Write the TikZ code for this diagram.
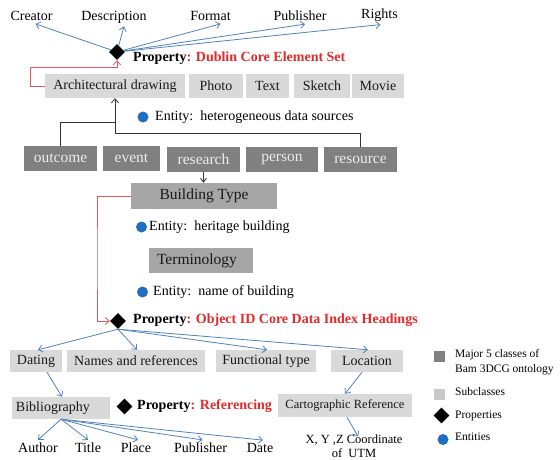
\documentclass[tikz,border=0pt]{standalone}
\usepackage{fontspec}
\setmainfont{Liberation Serif}
\usetikzlibrary{shapes.geometric,arrows.meta}
\definecolor{lgray}{HTML}{D9D9D9}
\definecolor{lgray2}{HTML}{C8C8C8}
\definecolor{mgray}{HTML}{A6A6A6}
\definecolor{dgray}{HTML}{808080}
\definecolor{dtext}{HTML}{EDEDED}
\definecolor{arrblue}{HTML}{4F81BD}
\definecolor{propred}{HTML}{E32A2A}
\definecolor{linered}{HTML}{E05A5A}
\definecolor{dotblue}{HTML}{1F6EBF}
\begin{document}
\begin{tikzpicture}[x=1pt,y=-1pt,
 ftxt/.style={font=\fontsize{14}{16}\selectfont},
 sub/.style={fill=lgray, inner sep=0, ftxt, text=black!90},
 maj/.style={fill=dgray, inner sep=0, text=dtext, font=\fontsize{15.5}{18}\selectfont},
 mid/.style={fill=mgray, inner sep=0, text=black!90, font=\fontsize{15.5}{18}\selectfont},
 lbl/.style={inner sep=3pt, ftxt},
 legtxt/.style={inner sep=0, anchor=west, align=left, font=\fontsize{11.5}{15}\selectfont},
 prop/.style={diamond, fill=black, inner sep=0, minimum width=16pt, minimum height=16pt},
 ent/.style={circle, fill=dotblue, inner sep=0, minimum size=11pt},
 proptxt/.style={inner sep=0, anchor=west, font=\bfseries\fontsize{14}{16}\selectfont},
 enttxt/.style={inner sep=0, anchor=west, ftxt},
 barrow/.style={draw=arrblue, line width=0.8pt, -{Straight Barb[length=4pt,width=7pt]}},
 redline/.style={draw=linered, line width=0.8pt},
 blkline/.style={draw=black!80, line width=0.8pt}
]
\useasboundingbox (0,0) rectangle (560,459);

% top labels
\node[lbl] (creator) at (31.5,16) {Creator};
\node[lbl] (desc) at (114,17) {Description};
\node[lbl] (format) at (210.5,16) {Format};
\node[lbl] (publ) at (300,16) {Publisher};
\node[lbl] (rights) at (379.5,15) {Rights};

% diamond 1
\node[prop] (d1) at (117,52) {};
\node[proptxt] (p1) at (133,58) {Property\textcolor{propred}{: Dublin Core Element Set}};

\draw[barrow] (d1) -- ([xshift=4]creator.south);
\draw[barrow] (d1) -- ([xshift=10]desc.south);
\draw[barrow] (d1) -- ([xshift=10]format.south);
\draw[barrow] (d1) -- ([xshift=5]publ.south);
\draw[barrow] (d1) -- ([xshift=1]rights.south);

% subclasses row 1
\node[sub, minimum width=140, minimum height=24] (arch) at (115,86) {Architectural drawing};
\node[sub, minimum width=54, minimum height=24] (photo) at (216,86) {Photo};
\node[sub, minimum width=43, minimum height=24] (text) at (267.5,86) {Text};
\node[sub, minimum width=56, minimum height=24] (sketch) at (322,86) {Sketch};
\node[sub, minimum width=52, minimum height=24] (movie) at (378,86) {Movie};

% red connector 1
\coordinate (r1) at (30,67);
\draw[redline, -{Straight Barb[length=4pt,width=7pt]}] (arch.west) -| (r1) -- (r1 -| d1.south) -- (d1.south);

% entity 1
\node[ent] (e1) at (143,117) {};
\node[enttxt] (e1t) at (155,117) {Entity:\ \ heterogeneous data sources};

% major classes
\node[maj, minimum width=73, minimum height=25] (outcome) at (60.5,158.5) {outcome};
\node[maj, minimum width=57, minimum height=25] (event) at (131.5,158.5) {event};
\node[maj, minimum width=73, minimum height=25] (research) at (203.5,159.5) {research};
\node[maj, minimum width=72, minimum height=25] (person) at (282,159.5) {person};
\node[maj, minimum width=73, minimum height=25] (resource) at (360.5,159.5) {resource};

% black connectors
\coordinate (j1) at (115,122);
\coordinate (j2) at (115,133);
\draw[blkline] (outcome.north) |- (j1);
\draw[blkline, -{Straight Barb[length=4pt,width=7pt]}] (resource.north) |- (j2) -- (arch.south);

% building type
\node[mid, minimum width=146, minimum height=26] (bt) at (204,196) {Building Type};
\draw[blkline, -{Straight Barb[length=4pt,width=6pt]}] (research.south) -- (research.south |- bt.north);

\node[ent] (e2) at (141.5,227) {};
\node[enttxt] (e2t) at (149,227) {Entity:\ \ heritage building};

\node[mid, minimum width=104, minimum height=25] (term) at (201,260.5) {Terminology\hspace*{8pt}};

\node[ent] (e3) at (142.5,292) {};
\node[enttxt] (e3t) at (153,292) {Entity:\ \ name of building};

% diamond 2
\node[prop] (d2) at (118,321) {};
\node[proptxt] (p2) at (133,320) {Property\textcolor{propred}{: Object ID Core Data Index Headings}};

% red connector 2
\coordinate (r2) at (97,258);
\draw[redline, -{Straight Barb[length=4pt,width=7pt]}] (bt.west) -| (r2) |- (d2.west);

% row 3
\node[sub, minimum width=52, minimum height=22] (dating) at (36,361) {Dating};
\node[sub, minimum width=138, minimum height=22] (names) at (136,361) {Names and references};
\node[sub, minimum width=100, minimum height=22] (func) at (266,361) {Functional type};
\node[sub, minimum width=72, minimum height=22] (loc) at (367,361) {Location};

\draw[barrow] (d2.south) -- ([xshift=2]dating.north);
\draw[barrow] (d2.south) -- ([xshift=1]names.north);
\draw[barrow] (d2.south) -- ([xshift=1]func.north);
\draw[barrow] (d2.south) -- ([xshift=1]loc.north);

% bibliography
\node[sub, minimum width=98, minimum height=22, text width=90, align=left] (bib) at (61,408) {Bibliography};
\draw[barrow] ([xshift=11]dating.south) -- ([xshift=1]bib.north);

\node[prop] (d3) at (124.5,406.5) {};
\node[proptxt] (p3) at (137,406) {Property\textcolor{propred}{: Referencing}};

% cartographic
\node[sub, minimum width=134, minimum height=23, font=\fontsize{12.5}{14}\selectfont] (carto) at (345,405.5) {Cartographic Reference};
\draw[barrow] ([xshift=-5]loc.south) -- (carto.north);

\node[inner sep=2pt, align=center, font=\fontsize{12.5}{14}\selectfont] (xyz) at (354,446) {X, Y ,Z Coordinate\\of\ \ UTM};
\draw[barrow] ([xshift=2]carto.south) -- ([xshift=4,yshift=-4]xyz.north);

% bottom labels
\node[lbl] (author) at (38,448) {Author};
\node[lbl] (title) at (88,448) {Title};
\node[lbl] (place) at (136,448) {Place};
\node[lbl] (publ2) at (200.5,448) {Publisher};
\node[lbl] (date) at (260,448) {Date};

\draw[barrow] (bib.south) -- (author.north);
\draw[barrow] (bib.south) -- (title.north);
\draw[barrow] (bib.south) -- ([xshift=2]place.north);
\draw[barrow] (bib.south) -- ([xshift=2]publ2.north);
\draw[barrow] (bib.south) -- ([xshift=3]date.north);

% legend
\node[fill=dgray, inner sep=0, minimum size=11pt] (lg1) at (439.5,356) {};
\node[legtxt] (lg1t) at (455,362.5) {Major 5 classes of\\Bam 3DCG ontology};
\node[fill=lgray2, inner sep=0, minimum size=11pt] (lg2) at (439.5,394) {};
\node[legtxt] (lg2t) at (455,392) {Subclasses};
\node[prop] (lg3) at (441.5,415.5) {};
\node[legtxt] (lg3t) at (455,416) {Properties};
\node[ent] (lg4) at (443,439.5) {};
\node[legtxt] (lg4t) at (455,437) {Entities};
\end{tikzpicture}
\end{document}
